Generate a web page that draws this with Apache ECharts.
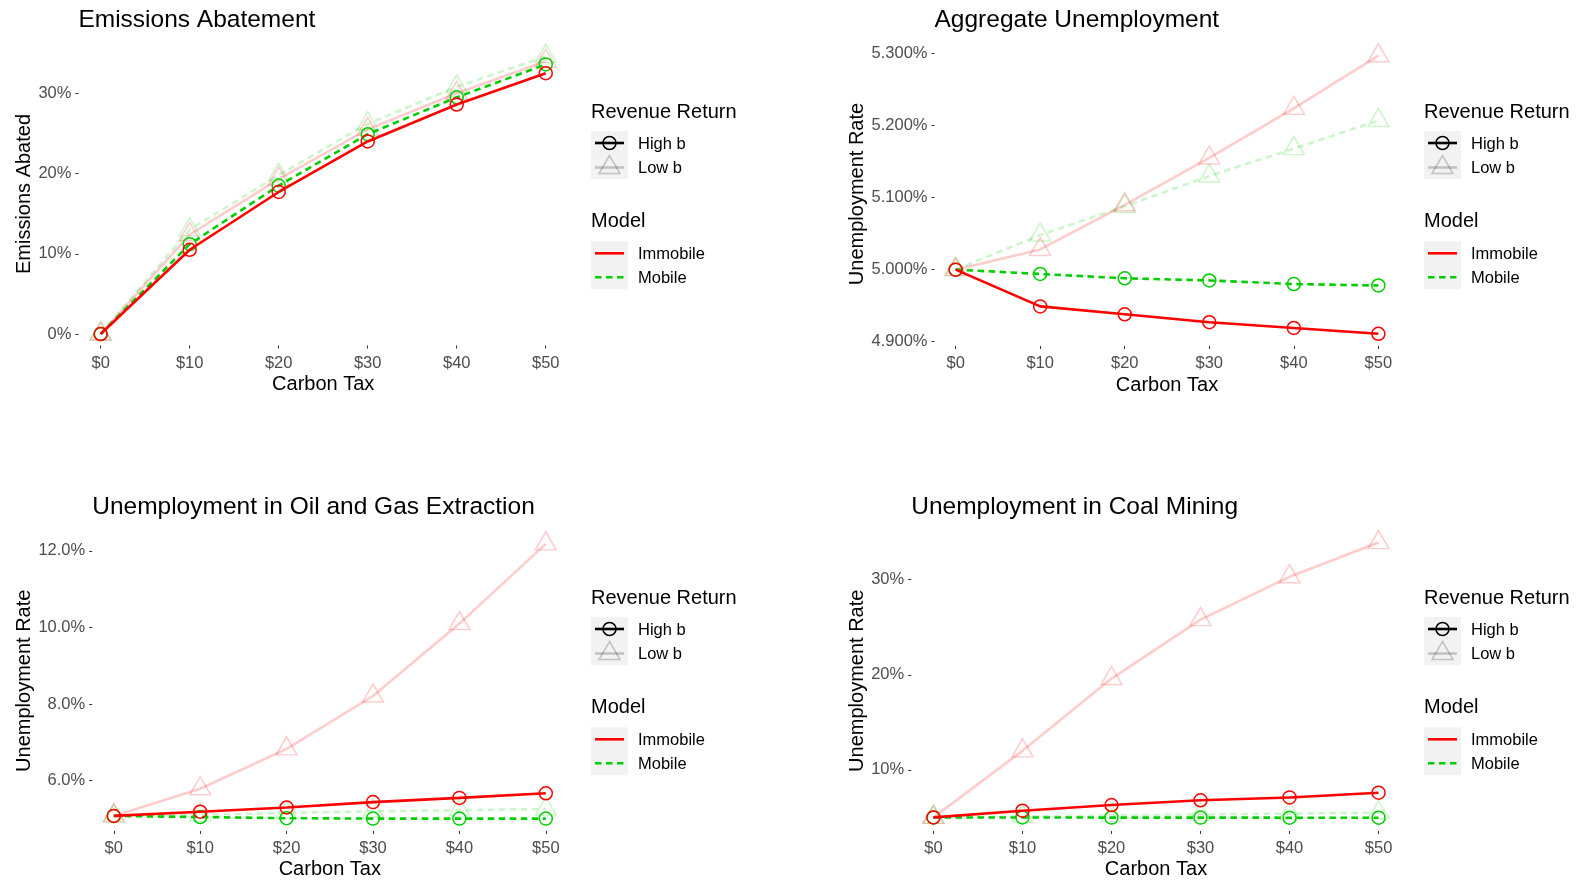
<!DOCTYPE html>
<html>
<head>
<meta charset="utf-8">
<script src="https://cdn.jsdelivr.net/npm/echarts@6/dist/echarts.min.js"></script>
<style>
  html, body { margin: 0; padding: 0; background: #fff; }
  #chart { width: 1579px; height: 880px; }
</style>
</head>
<body>
<div id="chart"></div>
<script>
// Carbon tax levels ($ per ton) shared by all four panels
const taxes = [0, 10, 20, 30, 40, 50];
const taxLabels = ['$0', '$10', '$20', '$30', '$40', '$50'];

// Emissions abated (%)
const abateHighImmobile = [0, 10.5, 17.7, 24.0, 28.6, 32.5];
const abateHighMobile   = [0, 11.2, 18.5, 24.9, 29.5, 33.6];
const abateLowImmobile  = [0, 12.4, 19.3, 25.5, 30.0, 34.0];
const abateLowMobile    = [0, 13.0, 19.8, 26.2, 30.8, 34.6];
const abateTicks = [0, 10, 20, 30];

// Aggregate unemployment rate (%)
const aggHighImmobile = [5.000, 4.949, 4.938, 4.927, 4.919, 4.911];
const aggHighMobile   = [5.000, 4.994, 4.988, 4.985, 4.980, 4.978];
const aggLowImmobile  = [5.000, 5.028, 5.090, 5.155, 5.224, 5.297];
const aggLowMobile    = [5.000, 5.048, 5.088, 5.130, 5.168, 5.207];
const aggTicks = [4.9, 5.0, 5.1, 5.2, 5.3];

// Unemployment rate in oil and gas extraction (%)
const oilHighImmobile = [5.08, 5.19, 5.30, 5.44, 5.55, 5.67];
const oilHighMobile   = [5.08, 5.05, 5.02, 5.01, 5.01, 5.01];
const oilLowImmobile  = [5.08, 5.79, 6.83, 8.21, 10.10, 12.18];
const oilLowMobile    = [5.08, 5.10, 5.16, 5.20, 5.23, 5.26];
const oilTicks = [6, 8, 10, 12];

// Unemployment rate in coal mining (%)
const coalHighImmobile = [5.0, 5.7, 6.3, 6.8, 7.1, 7.6];
const coalHighMobile   = [5.0, 4.99, 4.98, 4.98, 4.97, 4.97];
const coalLowImmobile  = [5.0, 12.0, 19.6, 25.8, 30.3, 33.9];
const coalLowMobile    = [5.0, 5.1, 5.2, 5.3, 5.4, 5.5];
const coalTicks = [10, 20, 30];

const FONT = '"Liberation Sans", Arial, sans-serif';
const RED = '#FF0000';
const GREEN = '#00CD00';
const RED_FAINT = 'rgba(255,0,0,0.2)';
const GREEN_FAINT = 'rgba(0,205,0,0.2)';
const DASH = [6.5, 4.5];
const LINE_W = 2.6;

const panels = [
  {
    title: 'Emissions Abatement', yName: 'Emissions Abated',
    grid: { left: 78.4, top: 42.5, width: 489.6, height: 303 },
    yMin: -1.43, yMax: 36.33, ticks: abateTicks, fmt: v => v + '%', yNameGap: 44,
    data: [abateLowMobile, abateLowImmobile, abateHighMobile, abateHighImmobile]
  },
  {
    title: 'Aggregate Unemployment', yName: 'Unemployment Rate',
    grid: { left: 934.5, top: 42, width: 465, height: 304 },
    yMin: 4.894, yMax: 5.316, ticks: aggTicks, fmt: v => v.toFixed(3) + '%', yNameGap: 66,
    data: [aggLowMobile, aggLowImmobile, aggHighMobile, aggHighImmobile]
  },
  {
    title: 'Unemployment in Oil and Gas Extraction', yName: 'Unemployment Rate',
    grid: { left: 92.2, top: 530.5, width: 475.2, height: 306.5 },
    yMin: 4.686, yMax: 12.53, ticks: oilTicks, fmt: v => v.toFixed(1) + '%', yNameGap: 58,
    data: [oilLowMobile, oilLowImmobile, oilHighMobile, oilHighImmobile]
  },
  {
    title: 'Unemployment in Coal Mining', yName: 'Unemployment Rate',
    grid: { left: 911.2, top: 530.5, width: 489.6, height: 307 },
    yMin: 3.57, yMax: 35.17, ticks: coalTicks, fmt: v => v + '%', yNameGap: 43,
    data: [coalLowMobile, coalLowImmobile, coalHighMobile, coalHighImmobile]
  }
];

// Styles for the four scenario lines: Low b first so the High b lines sit on top
const lineStyles = [
  { color: GREEN_FAINT, dash: DASH, symbol: 'triangle' },
  { color: RED_FAINT, dash: 'solid', symbol: 'triangle' },
  { color: GREEN, dash: DASH, symbol: 'circle' },
  { color: RED, dash: 'solid', symbol: 'circle' }
];

const titles = [], grids = [], xAxes = [], yAxes = [], series = [];

panels.forEach((p, i) => {
  titles.push({
    text: p.title, left: p.grid.left, top: i < 2 ? 8 : 495, padding: 0,
    textStyle: { fontFamily: FONT, fontSize: 24.5, fontWeight: 'normal', color: '#000', lineHeight: 24 }
  });
  grids.push(Object.assign({ containLabel: false }, p.grid));
  xAxes.push({
    type: 'value', gridIndex: i, min: -2.5, max: 52.5,
    name: 'Carbon Tax', nameLocation: 'middle', nameGap: i < 2 ? 29 : 28,
    nameTextStyle: { fontFamily: FONT, fontSize: 20, color: '#000' },
    axisLine: { show: false, onZero: false }, splitLine: { show: false },
    axisTick: { show: true, length: 3, customValues: taxes, lineStyle: { color: '#333', width: 1 } },
    axisLabel: {
      customValues: taxes, margin: 9, fontFamily: FONT, fontSize: 16.5, color: '#4D4D4D',
      formatter: v => taxLabels[taxes.indexOf(v)]
    }
  });
  yAxes.push({
    type: 'value', gridIndex: i, min: p.yMin, max: p.yMax,
    name: p.yName, nameLocation: 'middle', nameGap: p.yNameGap,
    nameTextStyle: { fontFamily: FONT, fontSize: 20, color: '#000' },
    axisLine: { show: false, onZero: false }, splitLine: { show: false },
    axisTick: { show: true, length: 3, customValues: p.ticks, lineStyle: { color: '#333', width: 1 } },
    axisLabel: {
      customValues: p.ticks, margin: 7, fontFamily: FONT, fontSize: 16.5, color: '#4D4D4D',
      formatter: p.fmt
    }
  });
  p.data.forEach((vals, k) => {
    const st = lineStyles[k];
    const tri = st.symbol === 'triangle';
    series.push({
      type: 'line', xAxisIndex: i, yAxisIndex: i,
      data: taxes.map((t, j) => [t, vals[j]]),
      symbol: st.symbol,
      symbolSize: tri ? [21, 18] : 13,
      symbolOffset: tri ? [0, -3] : [0, 0],
      showSymbol: true, showAllSymbol: true, clip: false,
      lineStyle: { color: st.color, width: LINE_W, type: st.dash },
      itemStyle: { color: 'rgba(0,0,0,0)', borderColor: st.color, borderWidth: 1.5 },
      emphasis: { disabled: true },
      z: 2 + k, silent: true, animation: false
    });
  });
});

// Legends drawn beside each panel
function legend(x, dy) {
  const t = (text, tx, ty, size) => ({
    type: 'text', x: tx, y: ty + dy,
    style: { text, fontFamily: FONT, fontSize: size, fill: '#000', verticalAlign: 'middle', align: 'left' }
  });
  const kx1 = x + 4, kx2 = x + 33, kc = x + 18.5;
  const faint = 'rgba(0,0,0,0.2)';
  const triH = 18, triW = 21, triCy = 167.5;
  return [
    t('Revenue Return', x, 112.5, 20),
    { type: 'rect', shape: { x: x, y: 131 + dy, width: 37, height: 48 }, style: { fill: '#F2F2F2' } },
    { type: 'line', shape: { x1: kx1, y1: 143 + dy, x2: kx2, y2: 143 + dy }, style: { stroke: '#000', lineWidth: LINE_W } },
    { type: 'circle', shape: { cx: kc, cy: 143 + dy, r: 6.5 }, style: { fill: 'none', stroke: '#000', lineWidth: 1.5 } },
    { type: 'line', shape: { x1: kx1, y1: triCy + dy, x2: kx2, y2: triCy + dy }, style: { stroke: faint, lineWidth: LINE_W } },
    { type: 'polygon', shape: { points: [
        [kc, triCy + dy - triH * 2 / 3], [kc + triW / 2, triCy + dy + triH / 3], [kc - triW / 2, triCy + dy + triH / 3]
      ] }, style: { fill: 'none', stroke: faint, lineWidth: 1.5 } },
    t('High b', x + 47, 144.5, 16.5),
    t('Low b', x + 47, 168.5, 16.5),
    t('Model', x, 221.5, 20),
    { type: 'rect', shape: { x: x, y: 241.3 + dy, width: 37, height: 48 }, style: { fill: '#F2F2F2' } },
    { type: 'line', shape: { x1: kx1, y1: 253.3 + dy, x2: kx2, y2: 253.3 + dy }, style: { stroke: RED, lineWidth: LINE_W } },
    { type: 'line', shape: { x1: kx1, y1: 277.3 + dy, x2: kx2, y2: 277.3 + dy }, style: { stroke: GREEN, lineWidth: LINE_W, lineDash: DASH } },
    t('Immobile', x + 47, 254.5, 16.5),
    t('Mobile', x + 47, 278.5, 16.5)
  ];
}

const chart = echarts.init(document.getElementById('chart'), null, { renderer: 'canvas' });
chart.setOption({
  backgroundColor: '#fff',
  animation: false,
  title: titles,
  grid: grids,
  xAxis: xAxes,
  yAxis: yAxes,
  series: series,
  graphic: [].concat(legend(591, 0), legend(1424, 0), legend(591, 486), legend(1424, 486))
});
</script>
</body>
</html>
